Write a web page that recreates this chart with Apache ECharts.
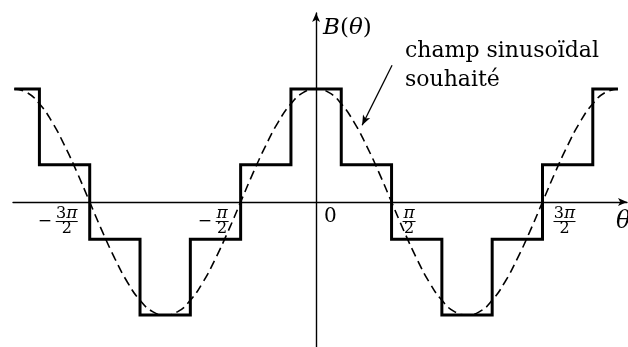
<!DOCTYPE html>
<html>
<head>
<meta charset="utf-8">
<script src="https://cdn.jsdelivr.net/npm/echarts@6/dist/echarts.min.js"></script>
<style>
  html, body { margin: 0; padding: 0; background: #ffffff; }
  #chart { width: 628px; height: 347px; }
</style>
</head>
<body>
<div id="chart"></div>
<script>
// Angles are expressed in units of π/12 (so 24 = 2π).

// Staircase field: each level holds from its angle up to the next angle.
const stairTheta = [-24, -22, -18, -14, -10, -6, -2, 2, 6, 10, 14, 18, 22, 24];
const stairField = [1, 0.33, -0.33, -1, -0.33, 0.33, 1, 0.33, -0.33, -1, -0.33, 0.33, 1, 1];

// Desired sinusoidal field, sampled every π/12.
const sineTheta = [-24, -23, -22, -21, -20, -19, -18, -17, -16, -15, -14, -13, -12,
                   -11, -10, -9, -8, -7, -6, -5, -4, -3, -2, -1, 0,
                   1, 2, 3, 4, 5, 6, 7, 8, 9, 10, 11, 12,
                   13, 14, 15, 16, 17, 18, 19, 20, 21, 22, 23, 24];
const sineField = [1.00, 0.97, 0.87, 0.71, 0.50, 0.26, 0.00, -0.26, -0.50, -0.71, -0.87, -0.97, -1.00,
                   -0.97, -0.87, -0.71, -0.50, -0.26, 0.00, 0.26, 0.50, 0.71, 0.87, 0.97, 1.00,
                   0.97, 0.87, 0.71, 0.50, 0.26, 0.00, -0.26, -0.50, -0.71, -0.87, -0.97, -1.00,
                   -0.97, -0.87, -0.71, -0.50, -0.26, 0.00, 0.26, 0.50, 0.71, 0.87, 0.97, 1.00];

// Axis tick labels (sign, numerator coefficient, numerator symbol, denominator).
const tickTheta = [-18, -6, 0, 6, 18];
const tickSign = ['−', '−', '', '', ''];
const tickCoef = ['3', '', '0', '', '3'];
const tickSym = ['π', 'π', '', 'π', 'π'];
const tickDen = ['2', '2', '', '2', '2'];

// Annotation arrow: from the caption down to the dashed curve.
const noteArrowFrom = [6.04, 1.21];
const noteArrowTo = [3.66, 0.68];

const SERIF = '"DejaVu Serif", serif';
const INK = '#000000';

function txt(size, extra) {
  return Object.assign({ fontFamily: SERIF, fontSize: size, color: INK, textBorderWidth: 0, opacity: 1 }, extra || {});
}

// Stacked fractions: numerator line, bar line (with optional sign), denominator line.
const fracRich = {
  z: txt(20, { lineHeight: 22 }),
  m: txt(17, { lineHeight: 3, width: 18, align: 'left' }),
  sp: txt(2, { lineHeight: 12, width: 18, align: 'left' }),
  n: txt(16, { lineHeight: 12, align: 'center' }),
  p: txt(17, { lineHeight: 12, align: 'center', fontStyle: 'italic' }),
  d: txt(16, { lineHeight: 12, align: 'center' }),
  bW: { width: 22, height: 1, lineHeight: 3, backgroundColor: INK, fontSize: 2 },
  bN: { width: 13, height: 1, lineHeight: 3, backgroundColor: INK, fontSize: 2 }
};

function tickLabelItem(i) {
  const x = tickTheta[i];
  if (!tickDen[i]) {
    return {
      value: [x, 0],
      label: { formatter: '{z|' + tickCoef[i] + '}', position: [8, 4], align: 'left', verticalAlign: 'top' }
    };
  }
  const k = tickCoef[i] ? 'W' : 'N';
  const neg = tickSign[i] !== '';
  const lead = neg ? '{sp| }' : '';
  const num = (tickCoef[i] ? '{n|' + tickCoef[i] + '}' : '') + '{p|' + tickSym[i] + '}';
  const text = lead + num + '\n' +
               (neg ? '{m|' + tickSign[i] + '}' : '') + '{b' + k + '| }\n' +
               lead + '{d|' + tickDen[i] + '}';
  return {
    value: [x, 0],
    label: neg
      ? { formatter: text, position: [-12, 6], align: 'right', verticalAlign: 'top' }
      : { formatter: text, position: [11, 6], align: 'left', verticalAlign: 'top' }
  };
}

const chart = echarts.init(document.getElementById('chart'), null, { renderer: 'canvas' });

chart.setOption({
  animation: false,
  backgroundColor: '#ffffff',
  grid: { left: 13, right: 1, top: 13, bottom: 0, containLabel: false },
  xAxis: {
    type: 'value',
    min: -24.1,
    max: 24.72,
    axisLine: {
      onZero: true,
      lineStyle: { color: INK, width: 1.4 },
      symbol: ['none', 'arrow'],
      symbolSize: [6, 9]
    },
    axisTick: { show: false },
    axisLabel: { show: false },
    splitLine: { show: false }
  },
  yAxis: {
    type: 'value',
    min: -1.283,
    max: 1.673,
    axisLine: {
      onZero: true,
      lineStyle: { color: INK, width: 1.4 },
      symbol: ['none', 'arrow'],
      symbolSize: [6, 9]
    },
    axisTick: { show: false },
    axisLabel: { show: false },
    splitLine: { show: false },
    name: '{i|B}{r|(}{i|θ}{r|)}',
    nameLocation: 'end',
    nameGap: -4,
    nameTextStyle: {
      align: 'left', verticalAlign: 'top', padding: [0, 0, 0, 7],
      rich: {
        i: txt(23, { fontStyle: 'italic' }),
        r: txt(23)
      }
    }
  },
  series: [
    {
      name: 'champ sinusoïdal souhaité',
      type: 'line',
      data: sineTheta.map((t, i) => [t, sineField[i]]),
      smooth: true,
      showSymbol: false,
      lineStyle: { color: INK, width: 1.6, type: [9, 5] },
      z: 3,
      markLine: {
        silent: true,
        symbol: ['none', 'arrow'],
        symbolSize: [6, 10],
        label: { show: false },
        lineStyle: { color: INK, width: 1.3, type: 'solid' },
        data: [[{ coord: noteArrowFrom }, { coord: noteArrowTo }]]
      }
    },
    {
      name: 'B',
      type: 'line',
      step: 'end',
      data: stairTheta.map((t, i) => [t, stairField[i]]),
      showSymbol: false,
      lineStyle: { color: INK, width: 3, join: 'miter', cap: 'butt' },
      z: 4
    },
    {
      name: 'ticks',
      type: 'scatter',
      symbolSize: 0,
      silent: true,
      itemStyle: { color: INK, opacity: 1 },
      data: tickTheta.map((t, i) => tickLabelItem(i)),
      label: { show: true, color: INK, opacity: 1, textBorderWidth: 0, rich: fracRich },
      emphasis: { disabled: true },
      z: 5
    }
  ],
  graphic: [
    {
      type: 'text',
      left: 405,
      top: 40,
      style: { text: 'champ sinusoïdal', font: '22px ' + SERIF, fill: INK }
    },
    {
      type: 'text',
      left: 405,
      top: 69,
      style: { text: 'souhaité', font: '22px ' + SERIF, fill: INK }
    },
    {
      type: 'text',
      x: 616,
      y: 222,
      style: { text: 'θ', font: 'italic 24px ' + SERIF, fill: INK, align: 'left', verticalAlign: 'middle' }
    }
  ]
});
</script>
</body>
</html>
